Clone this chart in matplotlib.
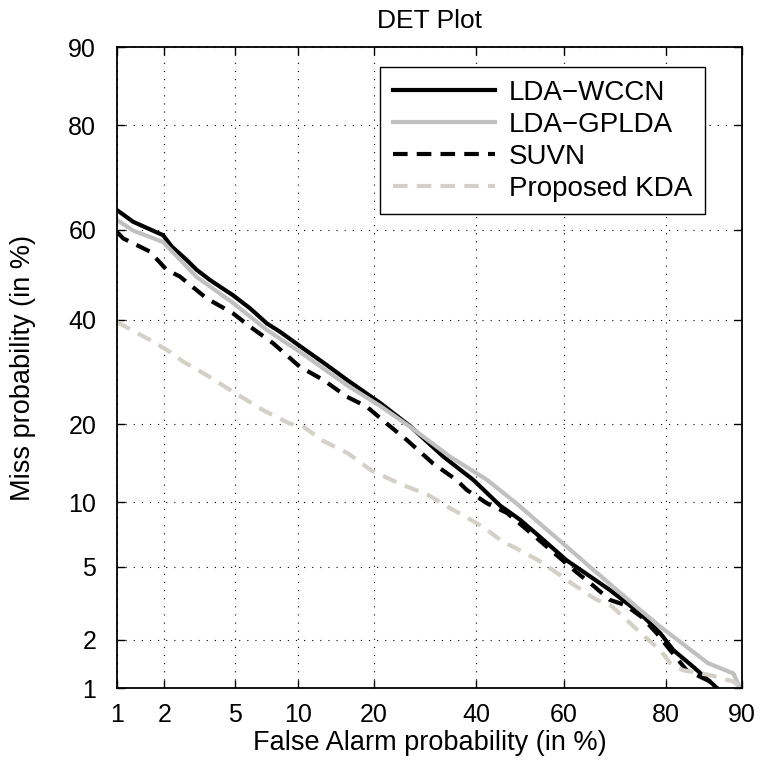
import math
import numpy as np
import matplotlib
matplotlib.use("Agg")
import matplotlib.pyplot as plt

plt.rcParams['font.family'] = ['Liberation Sans', 'DejaVu Sans']

# curve data, in percent
wccn_fa = [1, 1.28, 1.97, 2.22, 2.72, 3.10, 3.68, 4.88, 5.96, 7.2, 8.3, 10.2, 13.2, 15.9,
           21.0, 26.3, 32.9, 39.4, 45.4, 50.0, 54.6, 60.6, 69.8, 75.6, 79.1, 81.2, 84.1, 86.8, 87.2]
wccn_miss = [64.2, 61.7, 58.8, 56.3, 53.3, 51.1, 48.8, 45.4, 42.5, 39.2, 37.4, 34.4, 30.6, 27.7,
             23.5, 19.7, 15.3, 12.4, 9.7, 8.4, 7.0, 5.4, 3.8, 2.83, 2.18, 1.73, 1.37, 1.05, 1.0]

gplda_fa = [1, 1.28, 1.97, 3.10, 4.88, 7.2, 10.2, 15.9, 21.0, 26.3, 34.3, 42.5, 49.2, 55.4,
            60.6, 65.7, 71.2, 75.6, 79.1, 83.2, 86.1, 89.1, 89.8]
gplda_miss = [62.1, 59.8, 57.3, 49.5, 43.7, 37.8, 33.2, 26.7, 23.0, 19.6, 15.3, 12.4, 9.9, 7.8,
              6.3, 5.0, 3.8, 2.96, 2.38, 1.81, 1.44, 1.24, 1.0]

suvn_fa = [1, 1.10, 1.63, 2.07, 2.48, 3.53, 4.88, 5.96, 7.7, 10.2, 12.8, 15.9, 18.8, 22.1,
           25.7, 30.8, 35.7, 37.9, 42.5, 47.0, 50.8, 56.5, 62.8, 66.4, 69.8, 72.8, 75.9, 78.5,
           80.7, 83.2, 86.4, 87.3]
suvn_miss = [59.5, 58.1, 55.2, 51.1, 49.6, 44.7, 41.4, 38.5, 35.0, 30.2, 27.7, 24.6, 22.9, 20.1,
             17.6, 14.4, 12.4, 11.3, 9.9, 9.0, 7.8, 6.2, 4.7, 4.0, 3.36, 3.15, 2.7, 2.18,
             1.73, 1.3, 1.1, 1.0]

kda_fa = [1, 1.63, 2.17, 2.6, 3.53, 4.88, 6.9, 9.2, 10.6, 12.6, 16.1, 19.6, 24.3, 30.0, 33.7,
          37.5, 41.5, 45.8, 49.6, 54.2, 58.8, 62.5, 66.8, 70.2, 72.5, 75.6, 79.1, 80.7, 82.7,
          86.4, 89.1, 89.9]
kda_miss = [39.5, 35.7, 33.2, 31.2, 28.6, 25.5, 22.3, 20.1, 19.6, 17.6, 15.7, 13.5, 12.0, 10.7, 9.6,
            8.7, 7.8, 6.7, 6.1, 5.4, 4.6, 4.0, 3.4, 3.1, 2.7, 2.2, 1.73, 1.44, 1.3,
            1.21, 1.1, 1.0]

ticks = [1, 2, 5, 10, 20, 40, 60, 80, 90]


# normal deviate scale (probit), Acklam approximation for the inverse cdf
def ppf(p):
    p = np.clip(np.asarray(p, dtype=float) / 100.0, 1e-9, 1 - 1e-9)
    a = [-3.969683028665376e+01, 2.209460984245205e+02, -2.759285104469687e+02,
         1.383577518672690e+02, -3.066479806614716e+01, 2.506628277459239e+00]
    b = [-5.447609879822406e+01, 1.615858368580409e+02, -1.556989798598866e+02,
         6.680131188771972e+01, -1.328068155288572e+01]
    c = [-7.784894002430293e-03, -3.223964580411365e-01, -2.400758277161838e+00,
         -2.549732539343734e+00, 4.374664141464968e+00, 2.938163982698783e+00]
    d = [7.784695709041462e-03, 3.224671290700398e-01, 2.445134137142996e+00,
         3.754408661907416e+00]
    plow = 0.02425
    out = np.empty_like(p)
    lo = p < plow
    hi = p > 1 - plow
    mid = ~(lo | hi)
    q = np.sqrt(-2 * np.log(p[lo]))
    out[lo] = (((((c[0]*q+c[1])*q+c[2])*q+c[3])*q+c[4])*q+c[5]) / ((((d[0]*q+d[1])*q+d[2])*q+d[3])*q+1)
    q = np.sqrt(-2 * np.log(1 - p[hi]))
    out[hi] = -(((((c[0]*q+c[1])*q+c[2])*q+c[3])*q+c[4])*q+c[5]) / ((((d[0]*q+d[1])*q+d[2])*q+d[3])*q+1)
    q = p[mid] - 0.5
    r = q * q
    out[mid] = (((((a[0]*r+a[1])*r+a[2])*r+a[3])*r+a[4])*r+a[5])*q / (((((b[0]*r+b[1])*r+b[2])*r+b[3])*r+b[4])*r+1)
    return out


_erf = np.vectorize(math.erf)


def cdf(u):
    u = np.asarray(u, dtype=float)
    return 100.0 * 0.5 * (1 + _erf(u / math.sqrt(2)))


fig = plt.figure(figsize=(7.67, 7.60), dpi=100)
ax = fig.add_axes([0.1525, 0.0947, 0.8149, 0.8434])
ax.set_xscale('function', functions=(ppf, cdf))
ax.set_yscale('function', functions=(ppf, cdf))

dash = (0, (3.5, 2.2))
ax.plot(wccn_fa, wccn_miss, color='black', lw=3.0, label='LDA\u2212WCCN')
ax.plot(gplda_fa, gplda_miss, color='#c0c0c0', lw=3.0, label='LDA\u2212GPLDA')
ax.plot(suvn_fa, suvn_miss, color='black', lw=3.0, ls=dash, label='SUVN')
ax.plot(kda_fa, kda_miss, color='#d4d0c8', lw=3.0, ls=dash, label='Proposed KDA')

ax.set_xlim(1, 90)
ax.set_ylim(1, 90)
ax.set_xticks(ticks)
ax.set_yticks(ticks)
ax.set_xticklabels([str(t) for t in ticks])
ax.set_yticklabels([str(t) for t in ticks])
ax.minorticks_off()
ax.tick_params(direction='in', length=6, width=1, top=True, right=True, labelsize=18)
ax.tick_params(axis='x', pad=11)
ax.tick_params(axis='y', pad=15)
ax.grid(True, color='black', ls=(0, (1, 6.3)), lw=0.8)
for s in ax.spines.values():
    s.set_linewidth(1.3)

ax.set_xlabel('False Alarm probability (in %)', fontsize=19.5, labelpad=2)
ax.set_ylabel('Miss probability (in %)', fontsize=19.5, labelpad=23)
ax.set_title('DET Plot', fontsize=19, pad=14)

leg = ax.legend(loc='upper right', fontsize=20, handlelength=3.7, handletextpad=0.5,
                borderpad=0.45, labelspacing=0.22, fancybox=False,
                bbox_to_anchor=(0.9408, 0.9688), borderaxespad=0)
leg.get_frame().set_edgecolor('black')
leg.get_frame().set_linewidth(1.0)
leg.get_frame().set_alpha(1)

fig.savefig('out.png', dpi=100)
